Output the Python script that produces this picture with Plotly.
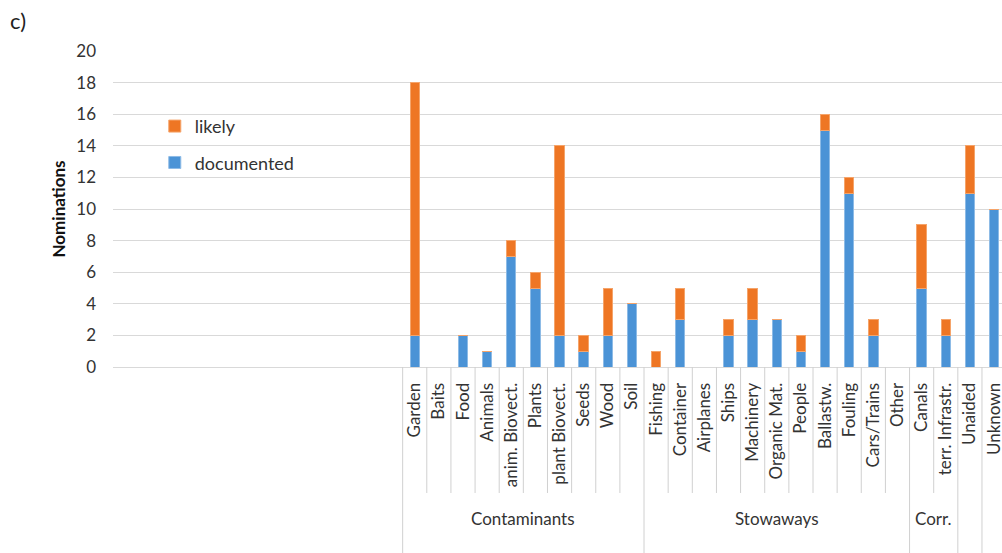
import plotly.graph_objects as go

# ---- data ----
categories = ["Garden", "Baits", "Food", "Animals", "anim. Biovect.", "Plants",
              "plant Biovect.", "Seeds", "Wood", "Soil",
              "Fishing", "Container", "Airplanes", "Ships", "Machinery",
              "Organic Mat.", "People", "Ballastw.", "Fouling", "Cars/Trains", "Other",
              "Canals", "terr. Infrastr.", "Unaided", "Unknown"]
groups = (["Contaminants"] * 10 + ["Stowaways"] * 11 + ["Corr."] * 2 + ["", ""])
documented = [2, 0, 2, 1, 7, 5, 2, 1, 2, 4,
              0, 3, 0, 2, 3, 3, 1, 15, 11, 2, 0,
              5, 2, 11, 10]
likely = [16, 0, 0, 0, 1, 1, 12, 1, 3, 0,
          1, 2, 0, 1, 2, 0, 1, 1, 1, 1, 0,
          4, 1, 3, 0]
N_EMPTY = 12          # empty category slots at the left of the axis
y_ticks = list(range(0, 21, 2))

# ---- style ----
FONT = "Lato"
TXT = "#333333"
GRID = "#D9D9D9"
SEP = "#D0D0D0"
BLUE = "#4B93D6"
ORANGE = "#EE7624"

xpos = [N_EMPTY + i for i in range(len(categories))]

fig = go.Figure()
fig.add_trace(go.Bar(x=xpos, y=documented, name="documented", legendgroup="d",
                     legendrank=2,
                     marker=dict(color=BLUE, line=dict(color="#8DBBE6", width=1)),
                     width=0.39))
fig.add_trace(go.Bar(x=xpos, y=likely, name="likely", legendgroup="l",
                     legendrank=1,
                     marker=dict(color=ORANGE, line=dict(color="#F5A46A", width=1)),
                     width=0.39))

# separators below the axis
B_SHORT = -0.3987
B_FULL = -0.60
shapes = []
n = len(categories)
for i in range(n):
    xb = N_EMPTY + i - 0.5
    if i == 0:
        full = True
    else:
        full = groups[i] != groups[i - 1] or groups[i] == ""
    shapes.append(dict(type="line", xref="x", yref="paper", x0=xb, x1=xb,
                       y0=0, y1=B_FULL if full else B_SHORT,
                       line=dict(color=SEP, width=1)))

annotations = []
# group labels
start = 0
for i in range(1, n + 1):
    if i == n or groups[i] != groups[start]:
        if groups[start]:
            cx = N_EMPTY + (start + i - 1) / 2
            annotations.append(dict(x=cx, y=-0.481, xref="x", yref="paper",
                                    text=groups[start], showarrow=False,
                                    font=dict(family=FONT, size=17, color=TXT),
                                    xanchor="center", yanchor="middle"))
        start = i

annotations.append(dict(x=-0.118, y=1.097, xref="paper", yref="paper", text="c)",
                        showarrow=False, xanchor="left", yanchor="middle",
                        font=dict(family=FONT, size=22, color="#222222")))

fig.update_layout(
    width=1002, height=553,
    margin=dict(l=113, r=0, t=51, b=186, autoexpand=False),
    paper_bgcolor="white", plot_bgcolor="white",
    barmode="stack",
    font=dict(family=FONT, size=17, color=TXT),
    showlegend=True,
    legend=dict(x=0.047, y=0.82, xanchor="left", yanchor="top",
                traceorder="grouped", tracegroupgap=10,
                font=dict(family=FONT, size=18, color=TXT),
                bgcolor="rgba(0,0,0,0)"),
    shapes=shapes,
    annotations=annotations,
    xaxis=dict(range=[-0.5, N_EMPTY + n - 0.67], tickvals=xpos, ticktext=categories,
               tickangle=-90, showgrid=False, zeroline=False, ticks="",
               showline=True, linecolor=GRID, linewidth=1, automargin=False,
               ticklabeloverflow="allow",
               tickfont=dict(family=FONT, size=17, color=TXT),
               ticklabelstandoff=8),
    yaxis=dict(range=[0, 20], tickvals=y_ticks, showgrid=True, gridcolor=GRID,
               gridwidth=1.3, zeroline=False, showline=False, ticks="",
               automargin=False,
               tickfont=dict(family=FONT, size=17, color=TXT),
               ticklabelstandoff=16,
               title=dict(text="<b>Nominations</b>", standoff=6,
                          font=dict(family=FONT, size=17, color="#111111"))),
)

fig.write_html("out.html", config={"displayModeBar": False},
               post_script="document.body.style.margin='0';document.body.style.overflow='hidden';")
